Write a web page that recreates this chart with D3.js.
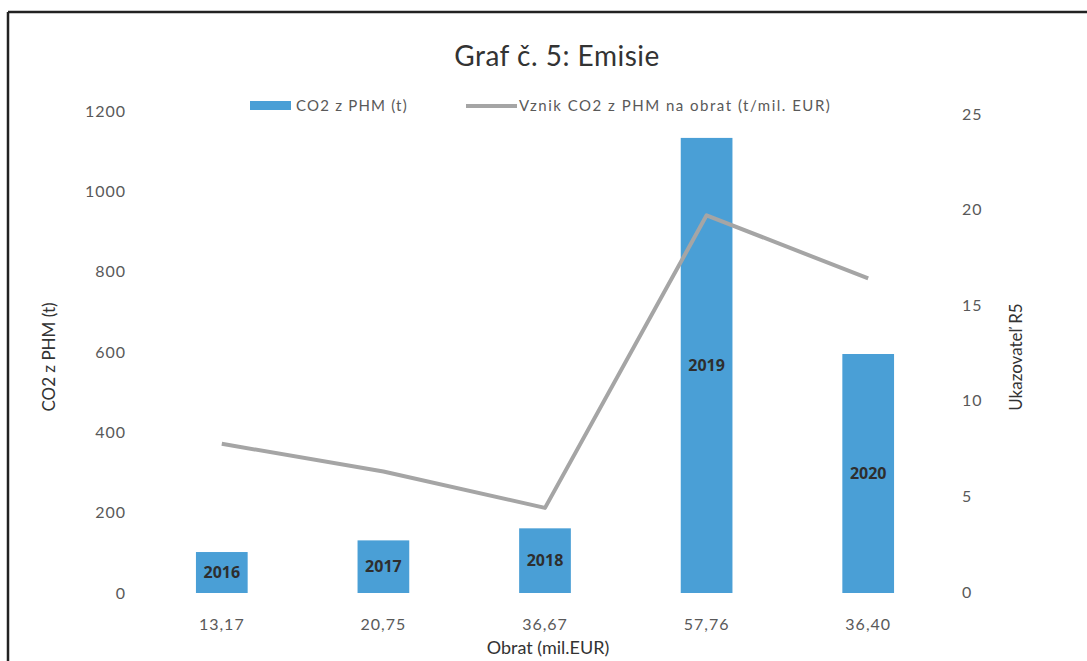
<!DOCTYPE html>
<html>
<head>
<meta charset="utf-8">
<script src="https://cdn.jsdelivr.net/npm/d3@7"></script>
<style>
  body { margin: 0; background: #fff; }
  svg { font-family: Lato, "Open Sans", sans-serif; }
</style>
</head>
<body>
<svg id="chart" width="1087" height="661"></svg>
<script>
// Data
const years = ["2016", "2017", "2018", "2019", "2020"];
const obrat = ["13,17", "20,75", "36,67", "57,76", "36,40"];
const co2 = [102, 131, 161, 1133, 595];
const r5 = [7.75, 6.3, 4.4, 19.7, 16.4];
const leftTicks = [0, 200, 400, 600, 800, 1000, 1200];
const rightTicks = [0, 5, 10, 15, 20, 25];

const svg = d3.select("#chart");

// Frame (top + left visible in the scan)
svg.append("line").attr("x1", 8).attr("y1", 12).attr("x2", 1087).attr("y2", 12)
    .attr("stroke", "#222").attr("stroke-width", 2.5);
svg.append("line").attr("x1", 8).attr("y1", 12).attr("x2", 8).attr("y2", 661)
    .attr("stroke", "#222").attr("stroke-width", 2.5);

// Scales
const xScale = d3.scaleBand()
    .domain(years)
    .range([141, 949])
    .paddingInner(0.68)
    .paddingOuter(0.34);

const yLeft = d3.scaleLinear().domain([0, 1200]).range([593, 111]);
const yRight = d3.scaleLinear().domain([0, 25]).range([592, 114]);

// Tick label styling
const styleTicks = g => {
    g.select(".domain").remove();
    g.selectAll("text").attr("fill", "#595959")
        .style("font-size", "16px")
        .style("letter-spacing", "1px")
        .style("font-family", "Lato, sans-serif");
};

// Left axis
svg.append("g")
    .attr("transform", "translate(126,0)")
    .call(d3.axisLeft(yLeft).tickValues(leftTicks).tickFormat(d3.format("d")).tickSize(0).tickPadding(0))
    .call(styleTicks);

// Right axis
svg.append("g")
    .attr("transform", "translate(962,0)")
    .call(d3.axisRight(yRight).tickValues(rightTicks).tickSize(0).tickPadding(0))
    .call(styleTicks);

// Bottom axis with turnover labels
svg.append("g")
    .attr("transform", "translate(0,619)")
    .call(d3.axisBottom(xScale).tickSize(0).tickPadding(0).tickFormat((d, i) => obrat[i]))
    .call(styleTicks);

// Bars
svg.selectAll(".bar")
    .data(co2)
    .enter()
    .append("rect")
    .attr("class", "bar")
    .attr("x", (d, i) => xScale(years[i]))
    .attr("width", xScale.bandwidth())
    .attr("y", d => yLeft(d))
    .attr("height", d => yLeft(0) - yLeft(d))
    .attr("fill", "#4a9fd6");

// Year labels centered in bars
svg.selectAll(".barlabel")
    .data(co2)
    .enter()
    .append("text")
    .attr("x", (d, i) => xScale(years[i]) + xScale.bandwidth() / 2)
    .attr("y", d => (yLeft(d) + yLeft(0)) / 2)
    .attr("dy", "0.36em")
    .attr("text-anchor", "middle")
    .attr("fill", "#2e2e2e")
    .style("font-family", "'Open Sans', sans-serif")
    .style("font-weight", "bold")
    .style("font-size", "16px")
    .text((d, i) => years[i]);

// Line (R5 on right axis)
const line = d3.line()
    .x((d, i) => xScale(years[i]) + xScale.bandwidth() / 2)
    .y(d => yRight(d));

svg.append("path")
    .datum(r5)
    .attr("fill", "none")
    .attr("stroke", "#a5a5a5")
    .attr("stroke-width", 4)
    .attr("stroke-linejoin", "round")
    .attr("d", line);

// Title
svg.append("text")
    .attr("x", 557).attr("y", 66)
    .attr("text-anchor", "middle")
    .attr("fill", "#333")
    .style("font-size", "28px")
    .style("letter-spacing", "0.5px")
    .text("Graf č. 5: Emisie");

// Legend
svg.append("rect").attr("x", 250).attr("y", 101).attr("width", 41).attr("height", 9)
    .attr("fill", "#4a9fd6");
svg.append("text").attr("x", 296).attr("y", 111)
    .attr("fill", "#595959").style("font-size", "15px").style("letter-spacing", "1.2px")
    .text("CO2 z PHM (t)");
svg.append("line").attr("x1", 466).attr("y1", 106).attr("x2", 517).attr("y2", 106)
    .attr("stroke", "#a5a5a5").attr("stroke-width", 4);
svg.append("text").attr("x", 519).attr("y", 111)
    .attr("fill", "#595959").style("font-size", "15px").style("letter-spacing", "1.5px")
    .text("Vznik CO2 z PHM na obrat (t/mil. EUR)");

// Axis titles
svg.append("text")
    .attr("transform", "translate(55,357) rotate(-90)")
    .attr("text-anchor", "middle")
    .attr("fill", "#333")
    .style("font-size", "17px")
    .text("CO2 z PHM (t)");

svg.append("text")
    .attr("transform", "translate(1022,357) rotate(-90)")
    .attr("text-anchor", "middle")
    .attr("fill", "#333")
    .style("font-size", "17px")
    .text("Ukazovateľ R5");

svg.append("text")
    .attr("x", 548).attr("y", 654)
    .attr("text-anchor", "middle")
    .attr("fill", "#333")
    .style("font-size", "18px")
    .text("Obrat (mil.EUR)");
</script>
</body>
</html>
